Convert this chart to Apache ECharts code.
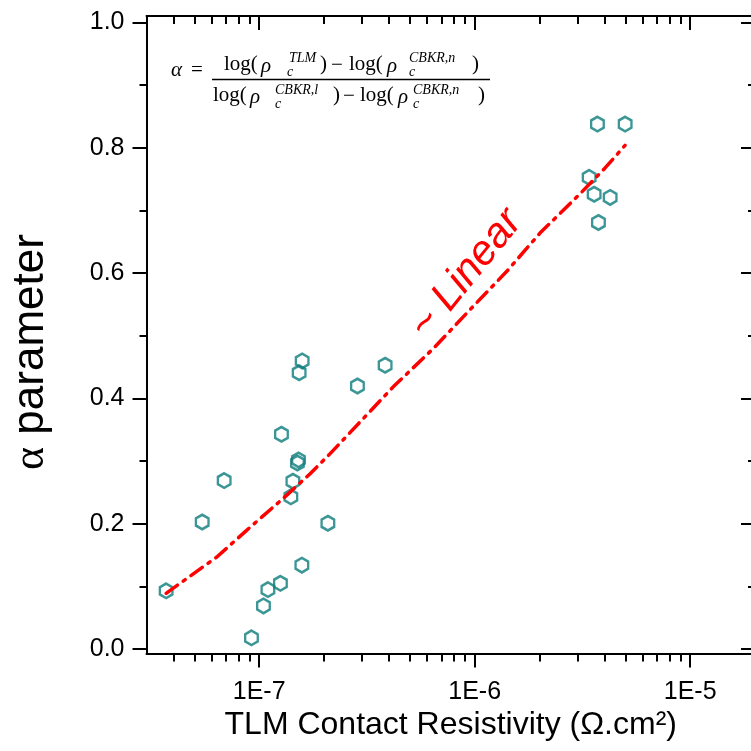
<!DOCTYPE html>
<html>
<head>
<meta charset="utf-8">
<script src="https://cdn.jsdelivr.net/npm/echarts@6/dist/echarts.min.js"></script>
<style>
  html, body { margin: 0; padding: 0; background: #fff; }
  #chart { width: 751px; height: 751px; }
</style>
</head>
<body>
<div id="chart"></div>
<script>
// TLM contact resistivity (Ω·cm²) and alpha parameter of each sample
const resistivity = [
  3.70e-8, 5.44e-8, 6.88e-8, 9.21e-8, 1.047e-7, 1.098e-7, 1.255e-7, 1.269e-7,
  1.403e-7, 1.434e-7, 1.505e-7, 1.522e-7, 1.533e-7, 1.583e-7, 1.578e-7, 2.084e-7,
  2.858e-7, 3.842e-7, 3.714e-6, 4.994e-6, 3.399e-6, 3.585e-6, 4.254e-6, 3.754e-6
];
const alpha = [
  0.093, 0.203, 0.269, 0.018, 0.069, 0.095, 0.105, 0.343,
  0.243, 0.268, 0.297, 0.302, 0.441, 0.460, 0.134, 0.201,
  0.420, 0.453, 0.838, 0.838, 0.753, 0.726, 0.721, 0.681
];

// "~ Linear" guide curve
const guideResistivity = [
  3.70e-8, 6.36e-8, 8.77e-8, 1.297e-7, 1.724e-7, 2.135e-7, 3.16e-7, 4.20e-7,
  6.44e-7, 9.53e-7, 1.41e-6, 2.01e-6, 3.09e-6, 4.03e-6, 4.99e-6
];
const guideAlpha = [
  0.089, 0.147, 0.190, 0.241, 0.280, 0.312, 0.374, 0.419,
  0.480, 0.542, 0.603, 0.664, 0.727, 0.768, 0.804
];

// axis ticks
const xMajorTicks = [1e-7, 1e-6, 1e-5];
const xMinorTicks = [
  4e-8, 5e-8, 6e-8, 7e-8, 8e-8, 9e-8,
  2e-7, 3e-7, 4e-7, 5e-7, 6e-7, 7e-7, 8e-7, 9e-7,
  2e-6, 3e-6, 4e-6, 5e-6, 6e-6, 7e-6, 8e-6, 9e-6
];
const yMajorTicks = [0, 0.2, 0.4, 0.6, 0.8, 1.0];
const yMinorTicks = [0.1, 0.3, 0.5, 0.7, 0.9];

const X_MIN = 3e-8, X_MAX = 2e-5;
const Y_MIN = -0.007, Y_MAX = 1.0105;

const black = '#000';
const sans = 'Liberation Sans, Arial, sans-serif';
const axisLineStyle = { color: black, width: 2 };
const tickFont = { fontFamily: sans, fontSize: 25, color: black };

function xAxisDef(position, ticks, length, inside, showLine, showLabels) {
  return {
    type: 'log', logBase: 10, min: X_MIN, max: X_MAX, position: position,
    axisLine: { show: showLine, onZero: false, lineStyle: axisLineStyle },
    axisTick: { show: true, inside: inside, length: length, customValues: ticks, lineStyle: { color: black, width: 2 } },
    axisLabel: Object.assign({
      show: showLabels, customValues: ticks, margin: 26,
      formatter: v => '1E' + Math.round(Math.log10(v))
    }, tickFont),
    splitLine: { show: false }, minorTick: { show: false }
  };
}
function yAxisDef(position, ticks, length, inside, showLine, showLabels) {
  return {
    type: 'value', min: Y_MIN, max: Y_MAX, position: position,
    axisLine: { show: showLine, onZero: false, lineStyle: axisLineStyle },
    axisTick: { show: true, inside: inside, length: length, customValues: ticks, lineStyle: { color: black, width: 2 } },
    axisLabel: Object.assign({
      show: showLabels, customValues: ticks, margin: 22,
      formatter: v => v.toFixed(1)
    }, tickFont),
    splitLine: { show: false }, minorTick: { show: false }
  };
}

const xAxes = [
  xAxisDef('bottom', xMajorTicks, 14, false, true, true),
  xAxisDef('bottom', xMinorTicks, 8, false, false, false),
  xAxisDef('top', xMajorTicks, 14, true, true, false),
  xAxisDef('top', xMinorTicks, 8, true, false, false)
];
xAxes[0].name = 'TLM Contact Resistivity (\u03A9.cm\u00B2)';
xAxes[0].nameLocation = 'middle';
xAxes[0].nameGap = 50;
xAxes[0].nameTextStyle = { fontFamily: sans, fontSize: 32, color: black };

const yAxes = [
  yAxisDef('left', yMajorTicks, 14, false, true, true),
  yAxisDef('left', yMinorTicks, 7, false, false, false),
  yAxisDef('right', yMajorTicks, 14, true, true, false),
  yAxisDef('right', yMinorTicks, 7, true, false, false)
];

// formula pieces: [text, x, y(middle), size, italic]
const serif = 'Liberation Serif, DejaVu Serif, serif';
const formulaPieces = [
  ['\u03B1', 171, 70, 21, true], ['=', 191, 70, 21, false],
  ['log(', 224, 64, 21, false], ['\u03C1', 261, 66, 21, true],
  ['TLM', 289, 58, 14, true], ['c', 287, 72, 14, true],
  [')', 320, 64, 21, false], ['\u2212', 331, 65, 21, false],
  ['log(', 349, 64, 21, false], ['\u03C1', 387, 66, 21, true],
  ['CBKR,n', 409, 58, 14, true], ['c', 409, 72, 14, true],
  [')', 472, 64, 21, false],
  ['log(', 213, 95, 21, false], ['\u03C1', 250, 97, 21, true],
  ['CBKR,l', 275, 90, 14, true], ['c', 275, 104, 14, true],
  [')', 333, 95, 21, false], ['\u2212', 343, 96, 21, false],
  ['log(', 360, 95, 21, false], ['\u03C1', 398, 97, 21, true],
  ['CBKR,n', 413, 90, 14, true], ['c', 413, 104, 14, true],
  [')', 478, 95, 21, false]
];
const formulaGraphics = formulaPieces.map(p => ({
  type: 'text', x: p[1], y: p[2], silent: true,
  style: {
    text: p[0], fontFamily: serif, fontSize: p[3], fontStyle: p[4] ? 'italic' : 'normal',
    fill: black, align: 'left', verticalAlign: 'middle'
  }
}));
formulaGraphics.push({
  type: 'line', silent: true,
  shape: { x1: 212, y1: 79.5, x2: 490, y2: 79.5 },
  style: { stroke: black, lineWidth: 1.3 }
});

const hexagon = 'path://M0,-1L0.866,-0.5L0.866,0.5L0,1L-0.866,0.5L-0.866,-0.5Z';

const chart = echarts.init(document.getElementById('chart'), null, { renderer: 'canvas' });
chart.setOption({
  animation: false,
  backgroundColor: '#fff',
  grid: {
    left: 146.5, top: 16, width: 608.5, height: 637.5,
    containLabel: false, outerBoundsMode: 'none'
  },
  xAxis: xAxes,
  yAxis: yAxes,
  graphic: [
    {
      type: 'text', x: 31, y: 352, rotation: Math.PI / 2, silent: true,
      style: {
        text: '{a|\u03B1}{b| parameter}', align: 'center', verticalAlign: 'middle',
        rich: {
          a: { fontFamily: 'Liberation Serif, serif', fontSize: 44, fill: black },
          b: { fontFamily: sans, fontSize: 44, fill: black }
        }
      }
    },
    {
      type: 'text', x: 466, y: 274, rotation: 51 * Math.PI / 180, silent: true,
      style: {
        text: '~ Linear', align: 'center', verticalAlign: 'middle',
        fontFamily: sans, fontSize: 42, fontStyle: 'italic', fill: '#ff0000'
      }
    }
  ].concat(formulaGraphics),
  series: [
    {
      type: 'scatter', xAxisIndex: 0, yAxisIndex: 0,
      data: resistivity.map((r, i) => [r, alpha[i]]),
      symbol: hexagon, symbolSize: [12.6, 14.5],
      itemStyle: { color: 'rgba(0,0,0,0)', borderColor: '#0c7c7c', borderWidth: 2.5 },
      emphasis: { disabled: true }
    },
    {
      type: 'line', xAxisIndex: 0, yAxisIndex: 0, z: 3,
      data: guideResistivity.map((r, i) => [r, guideAlpha[i]]),
      showSymbol: false, symbol: 'none', smooth: false,
      lineStyle: { color: '#ff0000', width: 3.5, type: [14, 7, 2.5, 7], cap: 'round' },
      emphasis: { disabled: true }
    }
  ]
});
</script>
</body>
</html>
